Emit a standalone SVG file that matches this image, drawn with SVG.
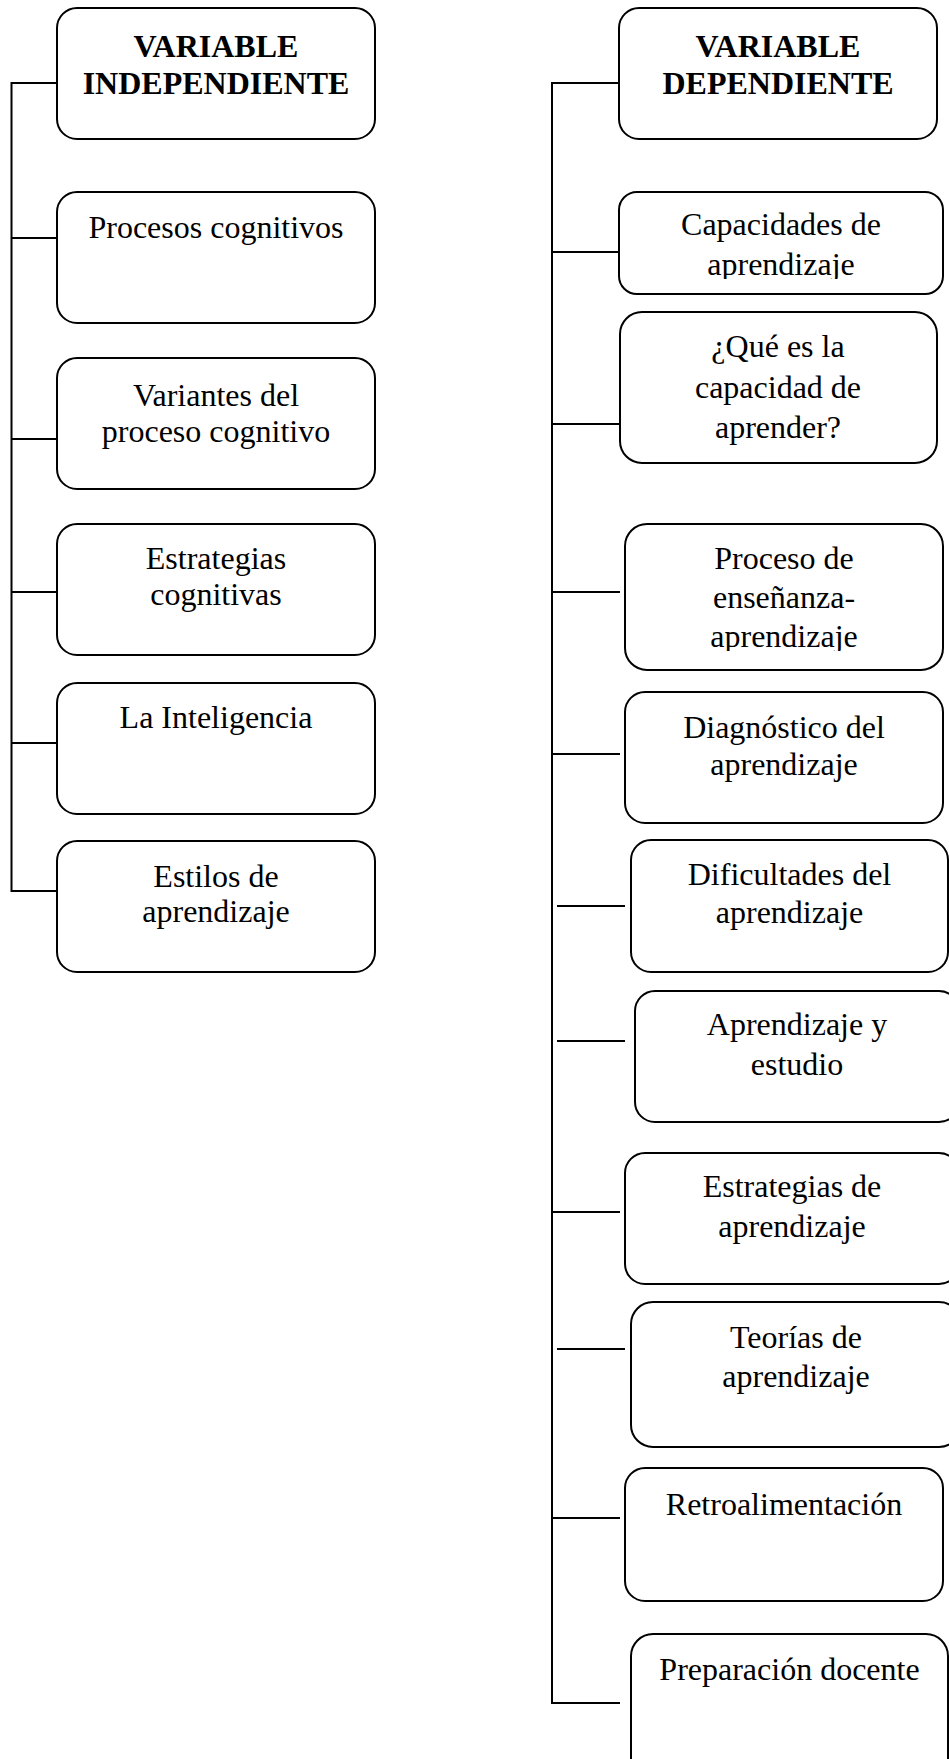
<svg xmlns="http://www.w3.org/2000/svg" width="949" height="1759" viewBox="0 0 949 1759">
<style>
rect{fill:#fff;stroke:#000;stroke-width:2}
line{stroke:#000;stroke-width:2}
text{font-family:"Liberation Serif","Times New Roman",serif;font-size:32px;fill:#000;text-anchor:middle}
.b{font-weight:bold}
</style>
<defs>
<clipPath id="c2"><rect x="600" y="180" width="360" height="99"/></clipPath>
<clipPath id="c4"><rect x="600" y="520" width="360" height="131"/></clipPath>
</defs>
<rect x="0" y="0" width="949" height="1759" style="fill:#fff;stroke:none"/>
<g id="connectors">
<line x1="11.5" y1="82" x2="11.5" y2="892"/>
<line x1="11" y1="83" x2="57" y2="83"/>
<line x1="11" y1="238" x2="57" y2="238"/>
<line x1="11" y1="439" x2="57" y2="439"/>
<line x1="11" y1="592" x2="57" y2="592"/>
<line x1="11" y1="743" x2="57" y2="743"/>
<line x1="11" y1="891" x2="57" y2="891"/>
<line x1="552" y1="82" x2="552" y2="1704"/>
<line x1="552" y1="83" x2="619" y2="83"/>
<line x1="552" y1="252" x2="619" y2="252"/>
<line x1="552" y1="424" x2="620" y2="424"/>
<line x1="552" y1="592" x2="620" y2="592"/>
<line x1="552" y1="754" x2="620" y2="754"/>
<line x1="557" y1="906" x2="625" y2="906"/>
<line x1="557" y1="1041" x2="625" y2="1041"/>
<line x1="552" y1="1212" x2="620" y2="1212"/>
<line x1="557" y1="1349" x2="625" y2="1349"/>
<line x1="552" y1="1518" x2="620" y2="1518"/>
<line x1="552" y1="1703" x2="620" y2="1703"/>
</g>
<g id="L1"><rect x="57" y="8" width="318" height="131" rx="20"/><text class="b" x="216" y="57">VARIABLE</text><text class="b" x="216" y="94">INDEPENDIENTE</text></g>
<g id="L2"><rect x="57" y="192" width="318" height="131" rx="20"/><text x="216" y="238">Procesos cognitivos</text></g>
<g id="L3"><rect x="57" y="358" width="318" height="131" rx="20"/><text x="216" y="406">Variantes del</text><text x="216" y="442">proceso cognitivo</text></g>
<g id="L4"><rect x="57" y="524" width="318" height="131" rx="20"/><text x="216" y="569">Estrategias</text><text x="216" y="605">cognitivas</text></g>
<g id="L5"><rect x="57" y="683" width="318" height="131" rx="20"/><text x="216" y="728">La Inteligencia</text></g>
<g id="L6"><rect x="57" y="841" width="318" height="131" rx="20"/><text x="216" y="887">Estilos de</text><text x="216" y="922">aprendizaje</text></g>
<g id="R1"><rect x="619" y="8" width="318" height="131" rx="20"/><text class="b" x="778" y="57">VARIABLE</text><text class="b" x="778" y="94">DEPENDIENTE</text></g>
<g id="R2"><rect x="619" y="192" width="324" height="102" rx="18"/><g clip-path="url(#c2)"><text x="781" y="235">Capacidades de</text><text x="781" y="275">aprendizaje</text></g></g>
<g id="R3"><rect x="620" y="312" width="317" height="151" rx="22"/><text x="778" y="357">¿Qué es la</text><text x="778" y="398">capacidad de</text><text x="778" y="438">aprender?</text></g>
<g id="R4"><rect x="625" y="524" width="318" height="146" rx="22"/><g clip-path="url(#c4)"><text x="784" y="569">Proceso de</text><text x="784" y="608">enseñanza-</text><text x="784" y="647">aprendizaje</text></g></g>
<g id="R5"><rect x="625" y="692" width="318" height="131" rx="20"/><text x="784" y="738">Diagnóstico del</text><text x="784" y="775">aprendizaje</text></g>
<g id="R6"><rect x="631" y="840" width="317" height="132" rx="20"/><text x="789.5" y="885">Dificultades del</text><text x="789.5" y="923">aprendizaje</text></g>
<g id="R7"><rect x="635" y="991" width="324" height="131" rx="20"/><text x="797" y="1035">Aprendizaje y</text><text x="797" y="1075">estudio</text></g>
<g id="R8"><rect x="625" y="1153" width="334" height="131" rx="20"/><text x="792" y="1197">Estrategias de</text><text x="792" y="1237">aprendizaje</text></g>
<g id="R9"><rect x="631" y="1302" width="330" height="145" rx="22"/><text x="796" y="1348">Teorías de</text><text x="796" y="1387">aprendizaje</text></g>
<g id="R10"><rect x="625" y="1468" width="318" height="133" rx="20"/><text x="784" y="1515">Retroalimentación</text></g>
<g id="R11"><rect x="631" y="1634" width="317" height="150" rx="22"/><text x="789.5" y="1680">Preparación docente</text></g>
</svg>
